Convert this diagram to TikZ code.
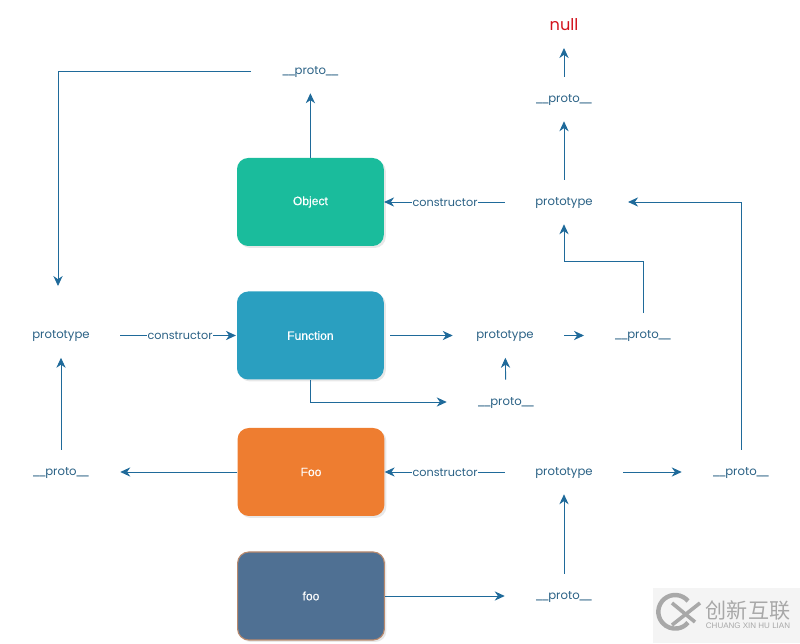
\documentclass[tikz,border=0pt]{standalone}
\usepackage{fontspec}
\setmainfont{Poppins}
\newfontfamily\boxfont[FakeBold=0.4]{Liberation Sans}
\newfontfamily\markfont{Liberation Sans}
\newfontfamily\cjkfont{Noto Sans CJK SC}
\usetikzlibrary{arrows.meta,shadows}
\definecolor{objgreen}{HTML}{1ABC9C}
\definecolor{fnblue}{HTML}{2A9FC0}
\definecolor{fooorange}{HTML}{EE7D30}
\definecolor{instblue}{HTML}{4F7093}
\definecolor{instedge}{HTML}{B98A6E}
\definecolor{linkblue}{HTML}{1F6A9A}
\definecolor{labelblue}{HTML}{2A6185}
\definecolor{nullred}{HTML}{D2121C}
\definecolor{markgray}{HTML}{A8A8A8}
\definecolor{markback}{HTML}{F4F4F4}
\newcommand{\dunder}{\_\kern-1.7pt\_\kern-1pt proto\kern-1pt\_\kern-1.7pt\_}

\begin{document}
\begin{tikzpicture}[
  >={Stealth[length=2.5mm,width=2.3mm,inset=0.8mm]},
  link/.style={->, line width=0.65pt, linkblue},
  objbox/.style={rounded corners=0.28cm, minimum width=3.67cm, minimum height=2.2cm,
    text=white, font=\boxfont\fontsize{8.6}{10}\selectfont,
    drop shadow={opacity=0.18, shadow xshift=0.5mm, shadow yshift=-0.5mm}},
  lab/.style={minimum width=2.95cm, minimum height=1.1cm, inner sep=0pt,
    text=labelblue, text height=1.3ex, text depth=0.5ex,
    font=\fontsize{8.3}{10}\selectfont},
  ctor/.style={fill=white, inner sep=0.5pt, text=labelblue,
    text height=1.3ex, text depth=0.2ex, font=\fontsize{8}{10}\selectfont}
]
\useasboundingbox (0,0) rectangle (20,16.075);
% ---- boxes ----
\node[objbox, fill=objgreen] (objBox) at (7.76,11.025) {Object};
\node[objbox, fill=fnblue] (fnBox) at (7.76,7.6875) {Function};
\node[objbox, fill=fooorange] (fooBox) at (7.775,4.275) {Foo};
\node[objbox, fill=instblue, draw=instedge, line width=0.8pt] (instBox) at (7.775,1.175) {foo};
% ---- top right column ----
\node[text=nullred, font=\fontsize{11.5}{12}\selectfont] (nullLab) at (14.10,15.45) {null};
\node[lab] (topDunder) at (14.10,13.60) {\dunder};
\node[lab] (objProto) at (14.10,11.025) {prototype};
\node[lab] (objDunder) at (7.76,14.30) {\dunder};
% ---- function row ----
\node[lab] (leftProto) at (1.525,7.6875) {prototype};
\node[lab] (fnProto) at (12.625,7.6875) {prototype};
\node[lab] (fnDunder) at (16.075,7.6875) {\dunder};
\node[lab] (fnBoxDunder) at (12.65,6.025) {\dunder};
% ---- foo rows ----
\node[lab] (leftDunder) at (1.525,4.275) {\dunder};
\node[lab] (fooProto) at (14.10,4.275) {prototype};
\node[lab] (fooDunder) at (18.525,4.275) {\dunder};
\node[lab] (instDunder) at (14.10,1.175) {\dunder};
\coordinate (fnBend) at (14.10,9.55);
% ---- links ----
\draw[link, shorten >=0.3cm] (topDunder) -- (nullLab);
\draw[link] (objProto) -- (topDunder);
\draw[link] (objBox) -- (objDunder);
\draw[link, shorten >=0.68cm] (objDunder.west) -| ([xshift=-0.075cm]leftProto.north);
\draw[link] (objProto) -- (objBox);
\draw[link] (fnDunder) |- (fnBend) -- (objProto);
\draw[link, shorten <=0.15cm, shorten >=-0.175cm] (fnBox) -- (fnProto);
\draw[link, shorten >=0.02cm] (leftProto) -- (fnBox);
\draw[link, shorten >=1.475cm] (fnProto.east) -- (fnDunder.center);
\draw[link] (fnBoxDunder) -- (fnProto);
\draw[link] (fnBox.south) |- (fnBoxDunder.west);
\draw[link] (fooBox) -- (leftDunder);
\draw[link] (leftDunder) -- (leftProto);
\draw[link] (fooProto) -- (fooBox);
\draw[link] (fooProto) -- (fooDunder);
\draw[link, shorten >=0.12cm] (fooDunder) |- (objProto.east);
\draw[link] (instDunder) -- (fooProto);
\draw[link] (instBox) -- (instDunder);
% ---- labels on the constructor links ----
\node[ctor] (objCtor) at (11.125,11.025) {constructor};
\node[ctor] (fnCtor) at (4.50,7.6875) {constructor};
\node[ctor] (fooCtor) at (11.125,4.275) {constructor};
% ---- corner mark ----
\fill[markback] (16.325,0) rectangle (20,1.375);
\draw[markgray, line width=1.1mm] (17.2,1.05) arc[start angle=40, end angle=320, radius=0.42cm];
\draw[markgray, line width=0.9mm] (17.5,1.0) -- (16.8,0.45);
\draw[markgray, line width=0.9mm] (16.8,1.0) -- (17.375,0.525);
\node[text=markgray, font=\cjkfont\fontsize{15}{15}\selectfont, inner sep=0pt] (markCjk) at (18.7,0.80) {创新互联};
\node[text=markgray, font=\markfont\fontsize{5.7}{6}\selectfont, inner sep=0pt] (markLatin) at (18.7,0.42) {CHUANG XIN HU LIAN};
\end{tikzpicture}
\end{document}
